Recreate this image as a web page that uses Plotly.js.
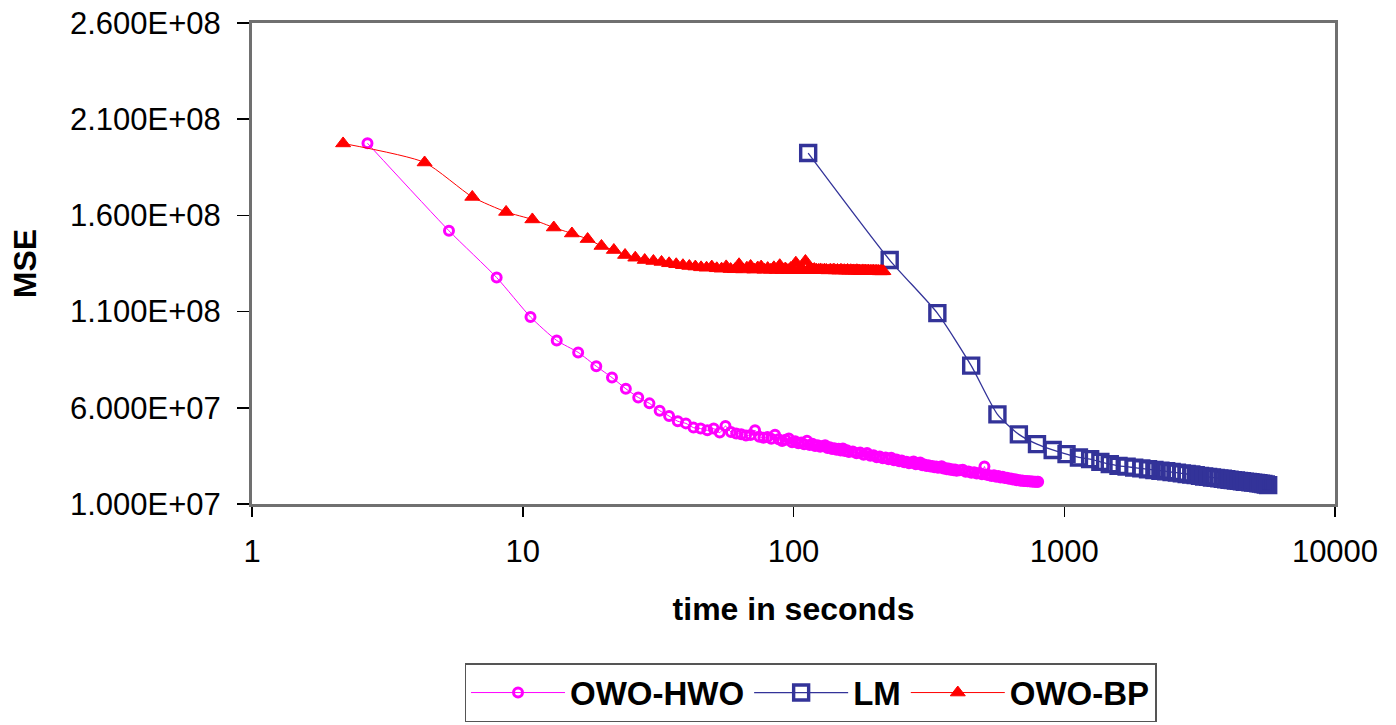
<!DOCTYPE html>
<html>
<head>
<meta charset="utf-8">
<script src="https://cdn.plot.ly/plotly-3.0.1.min.js"></script>
<style>html,body{margin:0;padding:0;background:#fff;}#chart{width:1396px;height:725px;}</style>
</head>
<body>
<div id="chart"></div>
<script>
// ---- data ----
const hwoTime = [2.67,5.34,8.01,10.68,13.35,16.02,18.69,21.36,24.03,26.70,29.37,32.04,34.71,37.38,40.05,42.72,45.39,48.06,50.73,53.40,56.07,58.74,61.41,64.08,66.75,69.42,72.09,74.76,77.43,80.10,82.77,85.44,88.11,90.78,93.45,96.12,98.79,101.46,104.13,106.80,109.47,112.14,114.81,117.48,120.15,122.82,125.49,128.16,130.83,133.50,136.17,138.84,141.51,144.18,146.85,149.52,152.19,154.86,157.53,160.20,
165.54,170.88,176.22,181.56,186.90,192.24,197.58,202.92,208.26,213.60,218.94,224.28,229.62,234.96,240.30,245.64,250.98,256.32,261.66,267.00,272.34,277.68,283.02,288.36,293.70,299.04,304.38,309.72,315.06,320.40,325.74,331.08,336.42,341.76,347.10,352.44,357.78,363.12,368.46,373.80,379.14,384.48,389.82,395.16,400.50,
411.18,421.86,432.54,443.22,453.90,464.58,475.26,485.94,496.62,507.30,517.98,528.66,539.34,550.02,560.70,571.38,582.06,592.74,603.42,614.10,624.78,635.46,646.14,656.82,667.50,678.18,688.86,699.54,710.22,720.90,731.58,742.26,752.94,763.62,774.30,784.98,795.66,801.00];
const hwoMSE = [197.5e6,152.0e6,127.7e6,107.2e6,95.0e6,88.8e6,81.6e6,75.7e6,69.9e6,65.4e6,62.3e6,58.5e6,55.7e6,53.0e6,51.9e6,49.7e6,49.2e6,48.3e6,49.2e6,47.1e6,50.5e6,47.4e6,46.7e6,46.3e6,45.6e6,45.9e6,48.3e6,45.0e6,44.4e6,44.8e6,43.9e6,46.0e6,43.6e6,42.8e6,43.4e6,44.1e6,42.1e6,42.6e6,41.6e6,42.0e6,41.1e6,42.9e6,40.7e6,41.3e6,40.2e6,40.6e6,39.7e6,40.1e6,40.6e6,39.1e6,39.5e6,38.6e6,39.0e6,38.2e6,38.7e6,37.8e6,38.9e6,37.5e6,38.0e6,37.0e6,
37.3e6,36.4e6,36.8e6,35.6e6,36.5e6,35.1e6,35.4e6,34.3e6,34.7e6,33.8e6,34.2e6,33.2e6,34.0e6,32.7e6,33.1e6,32.2e6,32.6e6,31.7e6,32.0e6,31.2e6,31.6e6,32.1e6,30.7e6,31.0e6,31.6e6,30.1e6,30.5e6,29.8e6,30.1e6,29.5e6,29.8e6,29.1e6,29.5e6,28.8e6,29.1e6,29.6e6,28.4e6,28.7e6,28.0e6,28.4e6,27.8e6,28.1e6,27.5e6,27.9e6,27.3e6,
27.5e6,27.8e6,26.7e6,26.9e6,26.2e6,26.5e6,25.8e6,26.1e6,25.4e6,29.5e6,25.2e6,25.0e6,24.6e6,24.9e6,24.2e6,24.5e6,23.8e6,24.1e6,23.5e6,23.7e6,23.1e6,23.3e6,22.7e6,22.9e6,22.4e6,22.5e6,22.1e6,22.2e6,21.9e6,21.9e6,21.8e6,21.8e6,21.7e6,21.7e6,21.6e6,21.6e6,21.6e6,21.6e6];

const lmTime = [113.3,226.6,339.9,453.2,566.5,679.8,793.1,906.4,1019.7,1133.0,1246.3,1359.6,1472.9,1586.2,1699.5,1812.8,1926.1,2039.4,2152.7,2266.0,2379.3,2492.6,2605.9,2719.2,2832.5,2945.8,3059.1,3172.4,3285.7,3399.0,3512.3,3625.6,3738.9,3852.2,3965.5,4078.8,4192.1,4305.4,4418.7,4532.0,4645.3,4758.6,4871.9,4985.2,5098.5,5211.8,5325.1,5438.4,5551.7,5665.0];
const lmMSE = [192.4e6,136.8e6,109.2e6,81.9e6,56.6e6,46.2e6,41.1e6,38.1e6,35.9e6,34.2e6,33.3e6,31.9e6,30.7e6,29.8e6,29.4e6,28.9e6,28.5e6,28.1e6,27.7e6,27.3e6,27.0e6,26.6e6,26.3e6,25.9e6,25.6e6,25.3e6,25.0e6,24.6e6,24.3e6,24.1e6,23.8e6,23.6e6,23.3e6,23.1e6,22.9e6,22.6e6,22.4e6,22.2e6,22.0e6,21.8e6,21.6e6,21.5e6,21.3e6,21.1e6,21.0e6,20.8e6,20.6e6,20.4e6,20.1e6,19.8e6];

const bpTime = [2.17,4.34,6.51,8.68,10.85,13.02,15.19,17.36,19.53,21.70,23.87,26.04,28.21,30.38,32.55,34.72,36.89,39.06,41.23,43.40,45.57,47.74,49.91,52.08,54.25,56.42,58.59,60.76,62.93,65.10,67.27,69.44,71.61,73.78,75.95,78.12,80.29,82.46,84.63,86.80,88.97,91.14,93.31,95.48,97.65,99.82,101.99,104.16,106.33,108.50,110.67,112.84,115.01,117.18,119.35,121.52,123.69,125.86,128.03,130.20,132.37,134.54,136.71,138.88,141.05,143.22,145.39,147.56,149.73,151.90,154.07,156.24,158.41,160.58,162.75,164.92,167.09,169.26,171.43,173.60,175.77,177.94,180.11,182.28,184.45,186.62,188.79,190.96,193.13,195.30,197.47,199.64,201.81,203.98,206.15,208.32,210.49,212.66,214.83,217.00,219.17];
const bpMSE = [197.4e6,187.5e6,169.6e6,161.8e6,157.9e6,153.7e6,150.6e6,147.7e6,144.1e6,142.0e6,139.4e6,138.0e6,136.8e6,136.3e6,135.8e6,135.1e6,134.6e6,134.1e6,133.7e6,133.4e6,133.0e6,132.8e6,133.4e6,132.5e6,132.3e6,133.5e6,132.1e6,132.0e6,134.6e6,131.9e6,132.8e6,133.7e6,131.8e6,132.9e6,133.4e6,131.7e6,132.6e6,131.7e6,133.0e6,131.6e6,134.1e6,131.6e6,132.4e6,131.6e6,132.6e6,131.5e6,135.4e6,131.5e6,132.2e6,131.5e6,136.3e6,131.6e6,
132.0e6,131.7e6,132.1e6,131.8e6,131.6e6,131.9e6,131.5e6,131.8e6,131.6e6,131.4e6,131.7e6,131.5e6,131.8e6,131.4e6,131.6e6,131.3e6,131.7e6,131.4e6,131.5e6,131.3e6,131.6e6,131.2e6,131.5e6,131.3e6,131.4e6,131.2e6,131.5e6,131.2e6,131.3e6,131.1e6,131.4e6,131.2e6,131.3e6,131.1e6,131.3e6,131.0e6,131.2e6,131.1e6,131.2e6,131.0e6,131.2e6,131.0e6,131.1e6,130.9e6,131.1e6,130.9e6,131.0e6];

const yTickVals = [1e7, 6e7, 1.1e8, 1.6e8, 2.1e8, 2.6e8];
const yTickText = ['1.000E+07','6.000E+07','1.100E+08','1.600E+08','2.100E+08','2.600E+08'];
const xTickVals = [1, 10, 100, 1000, 10000];
const xTickText = ['1','10','100','1000','10000'];

const FONT = 'Liberation Sans, Arial, sans-serif';

const traces = [
  {
    name: 'OWO-HWO', x: hwoTime, y: hwoMSE, type: 'scatter', mode: 'lines+markers',
    line: {color: '#FF00FF', width: 1, shape: 'spline', smoothing: 0.6},
    marker: {symbol: 'circle-open', size: 9, color: '#FF00FF', line: {color: '#FF00FF', width: 3}}
  },
  {
    name: 'LM', x: lmTime, y: lmMSE, type: 'scatter', mode: 'lines+markers',
    line: {color: '#333399', width: 1.3, shape: 'spline', smoothing: 0.6},
    marker: {symbol: 'square-open', size: 15, color: '#333399', line: {color: '#333399', width: 3.4}}
  },
  {
    name: 'OWO-BP', x: bpTime, y: bpMSE, type: 'scatter', mode: 'lines+markers',
    line: {color: '#FF0000', width: 1, shape: 'spline', smoothing: 0.6},
    marker: {symbol: 'triangle-up', size: 13, color: '#FF0000', line: {color: '#FF0000', width: 1}}
  }
];

const layout = {
  width: 1396, height: 725,
  margin: {l: 252, r: 61, t: 23, b: 221, pad: 0},
  paper_bgcolor: '#ffffff', plot_bgcolor: '#ffffff',
  font: {family: FONT, color: '#000000', size: 32},
  showlegend: true,
  xaxis: {
    type: 'log', range: [0, 4], autorange: false,
    tickmode: 'array', tickvals: xTickVals, ticktext: xTickText,
    ticks: 'outside', ticklen: 10, tickwidth: 1.5, tickcolor: '#000',
    ticklabelstandoff: 8,
    showgrid: false, zeroline: false,
    showline: true, linecolor: '#707070', linewidth: 3, mirror: true,
    tickfont: {family: FONT, size: 31, color: '#000'},
    title: {text: '<b>time in seconds</b>', font: {family: FONT, size: 32, color: '#000'}, standoff: 30},
    automargin: false
  },
  yaxis: {
    type: 'linear', range: [1e7, 2.6e8], autorange: false,
    tickmode: 'array', tickvals: yTickVals, ticktext: yTickText,
    ticks: 'outside', ticklen: 12, tickwidth: 1.5, tickcolor: '#000',
    ticklabelstandoff: 10,
    showgrid: false, zeroline: false,
    showline: true, linecolor: '#707070', linewidth: 3, mirror: true,
    tickfont: {family: FONT, size: 31, color: '#000'},
    title: {text: '<b>MSE</b>', font: {family: FONT, size: 32, color: '#000'}, standoff: 24},
    automargin: false
  },
  legend: {
    orientation: 'h', xref: 'container', yref: 'container',
    x: 0.5806, xanchor: 'center', y: 0.004, yanchor: 'bottom',
    bgcolor: '#ffffff', bordercolor: '#555555', borderwidth: 1.5,
    font: {family: FONT, size: 33, color: '#000', weight: 'bold'},
    itemwidth: 94, itemclick: false, itemdoubleclick: false
  }
};

Plotly.newPlot('chart', traces, layout, {displayModeBar: false, staticPlot: true});
</script>
</body>
</html>
